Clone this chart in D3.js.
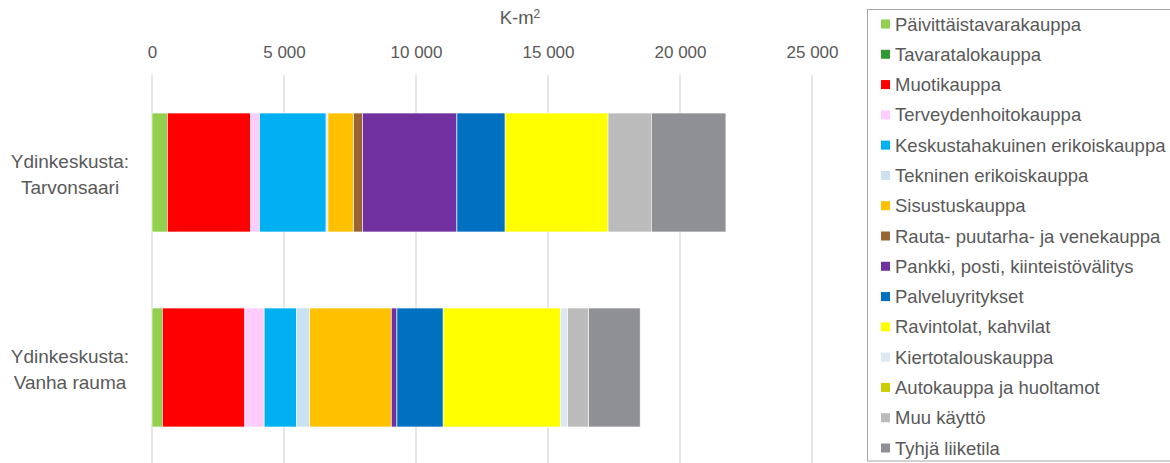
<!DOCTYPE html>
<html>
<head>
<meta charset="utf-8">
<script src="https://cdn.jsdelivr.net/npm/d3@7"></script>
<style>
  html, body { margin: 0; padding: 0; background: #fff; }
  svg { display: block; font-family: "Liberation Sans", Arial, sans-serif; }
</style>
</head>
<body>
<svg id="chart" width="1170" height="463"></svg>
<script>
const categories = ["Ydinkeskusta: Tarvonsaari", "Ydinkeskusta: Vanha rauma"];
const categoryLines = [["Ydinkeskusta:", "Tarvonsaari"], ["Ydinkeskusta:", "Vanha rauma"]];
const seriesNames = [
  "Päivittäistavarakauppa", "Tavaratalokauppa", "Muotikauppa", "Terveydenhoitokauppa",
  "Keskustahakuinen erikoiskauppa", "Tekninen erikoiskauppa", "Sisustuskauppa",
  "Rauta- puutarha- ja venekauppa", "Pankki, posti, kiinteistövälitys", "Palveluyritykset",
  "Ravintolat, kahvilat", "Kiertotalouskauppa", "Autokauppa ja huoltamot", "Muu käyttö", "Tyhjä liiketila"
];
const seriesColors = [
  "#92D050", "#339933", "#FF0000", "#FFCCFF", "#00B0F0", "#C9E1F1", "#FFC000",
  "#996633", "#7030A0", "#0070C0", "#FFFF00", "#DAE8F3", "#CCCC00", "#BBBBBB", "#8F9095"
];
const valuesTarvonsaari = [580, 0, 3159, 333, 2522, 72, 971, 333, 3580, 1826, 3899, 0, 0, 1638, 2826];
const valuesVanhaRauma = [391, 0, 3126, 731, 1235, 492, 3088, 0, 214, 1752, 4437, 277, 0, 794, 1954];
const tickValues = [0, 5000, 10000, 15000, 20000, 25000];
const tickLabels = ["0", "5 000", "10 000", "15 000", "20 000", "25 000"];

const allValues = [valuesTarvonsaari, valuesVanhaRauma];
const rows = categories.map((c, i) => {
  const o = { category: c };
  seriesNames.forEach((s, j) => { o[s] = allValues[i][j]; });
  return o;
});
const stacked = d3.stack().keys(seriesNames)(rows);

const svg = d3.select("#chart");
const textColor = "#595959";

const x = d3.scaleLinear().domain([0, 25000]).range([152, 812]);
const y = d3.scaleBand().domain(categories).range([75, 465]).paddingInner(0.39).paddingOuter(0.195);

// gridlines
svg.append("g")
  .selectAll("line")
  .data(tickValues)
  .join("line")
  .attr("x1", d => x(d)).attr("x2", d => x(d))
  .attr("y1", 75).attr("y2", 463)
  .attr("stroke", "#D9D9D9").attr("stroke-width", 1.3);

// top axis labels
const axis = d3.axisTop(x).tickValues(tickValues).tickFormat((d, i) => tickLabels[i]).tickSize(0).tickPadding(0);
const axG = svg.append("g").attr("transform", "translate(0,58)").call(axis);
axG.select(".domain").remove();
axG.selectAll("text")
  .attr("font-size", 17).attr("fill", textColor)
  .attr("font-family", "Liberation Sans, Arial, sans-serif")
  .attr("dy", 0);

// axis title
const title = svg.append("text")
  .attr("x", 520).attr("y", 24)
  .attr("text-anchor", "middle")
  .attr("font-size", 18.5).attr("fill", textColor);
title.append("tspan").text("K-m");
title.append("tspan").attr("font-size", 12).attr("dy", -6).text("2");

// bars
svg.append("g")
  .selectAll("g")
  .data(stacked)
  .join("g")
  .attr("fill", (d, i) => seriesColors[i])
  .selectAll("rect")
  .data(d => d)
  .join("rect")
  .attr("x", d => x(d[0]))
  .attr("width", d => Math.max(0, x(d[1]) - x(d[0])))
  .attr("y", d => y(d.data.category))
  .attr("height", y.bandwidth())
  .attr("stroke", "#fff")
  .attr("stroke-width", d => (d[1] - d[0]) > 0 ? 0.6 : 0);

// category labels
const catG = svg.append("g");
categories.forEach((c, i) => {
  const cy = y(c) + y.bandwidth() / 2 + 1;
  const t = catG.append("text")
    .attr("text-anchor", "middle")
    .attr("font-size", 19).attr("fill", textColor);
  categoryLines[i].forEach((line, k) => {
    t.append("tspan").attr("x", 70).attr("y", cy + (k === 0 ? -13 : 13) + 7).text(line);
  });
});

// legend
const lg = svg.append("g");
lg.append("rect")
  .attr("x", 867.5).attr("y", 9.5).attr("width", 320).attr("height", 451.5)
  .attr("fill", "#fff").attr("stroke", "#A6A6A6").attr("stroke-width", 1);
const ly = d3.scalePoint().domain(seriesNames).range([24, 448]);
const items = lg.selectAll("g.item").data(seriesNames).join("g").attr("class", "item")
  .attr("transform", d => `translate(0,${ly(d)})`);
items.append("rect")
  .attr("x", 881).attr("y", -4.5).attr("width", 9).attr("height", 9)
  .attr("fill", (d, i) => seriesColors[i]);
items.append("text")
  .attr("x", 895).attr("y", 6.5)
  .attr("font-size", 18.5).attr("fill", textColor)
  .text(d => d);
</script>
</body>
</html>
